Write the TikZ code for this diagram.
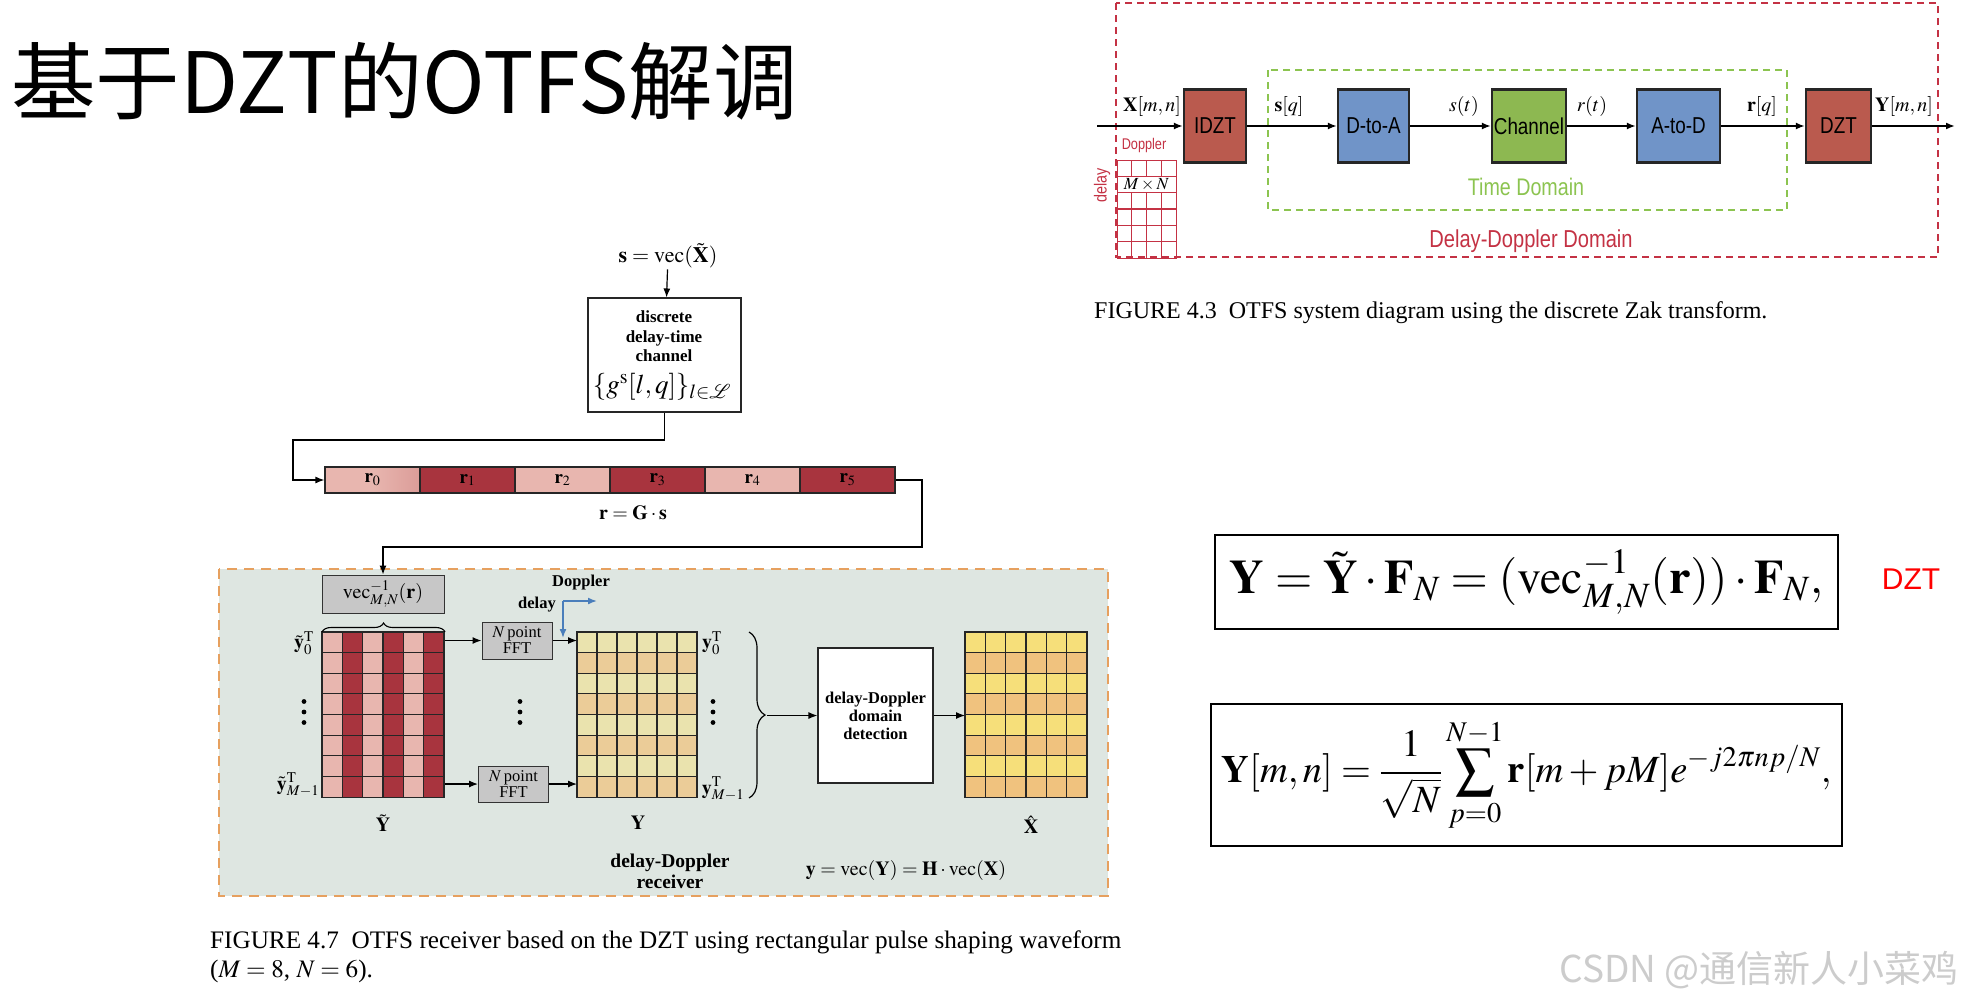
\documentclass[tikz,border=0pt]{standalone}
\usepackage{amsmath}
\usepackage{mathptmx}
\usepackage{fontspec}
\setmainfont{Liberation Serif}
\newfontfamily\cjkfont{Noto Sans CJK SC}
\newfontfamily\narrowsf[FakeStretch=0.82]{Liberation Sans}
\newfontfamily\plainsf{Liberation Sans}
\usetikzlibrary{arrows.meta,calc,decorations.pathreplacing}
\newcommand{\setfs}[2]{\fontsize{#1}{#2}\selectfont}
\definecolor{zakred}{RGB}{186,90,78}
\definecolor{zakblue}{RGB}{112,148,200}
\definecolor{zakgreen}{RGB}{141,184,81}
\definecolor{ddred}{RGB}{196,50,68}
\definecolor{tdgreen}{RGB}{140,196,80}
\definecolor{pinkc}{RGB}{232,182,175}
\definecolor{darkc}{RGB}{168,52,62}
\definecolor{ylw}{RGB}{234,227,174}
\definecolor{ytan}{RGB}{235,204,152}
\definecolor{xylw}{RGB}{246,223,122}
\definecolor{xorg}{RGB}{240,194,126}
\definecolor{rxbg}{RGB}{222,230,225}
\definecolor{rxdash}{RGB}{230,160,95}
\definecolor{axblue}{RGB}{74,126,187}

\begin{document}
\begin{tikzpicture}[x=1pt,y=-1pt,>={Latex[length=9pt,width=7pt]},
  blk/.style={draw=black!85, line width=2.2, minimum height=73, inner sep=0pt, font=\narrowsf\setfs{23}{26}},
  sig/.style={font=\setfs{20}{24}, inner sep=1pt},
  lbl/.style={font=\setfs{20}{24}, inner sep=1pt},
  bf/.style={font=\bfseries\setfs{17}{19.5}, align=center, inner sep=0pt},
  flow/.style={->, line width=1.8},
  thin/.style={->, line width=1.2},
  gbox/.style={draw=black!80, fill=black!22, line width=1, inner sep=0pt},
  rc/.style={draw=black!85, line width=1.2, minimum width=95, minimum height=26, inner sep=0pt, font=\setfs{19}{22}},
  cell/.style={draw=black!85, line width=1.1}]
  \path[use as bounding box, fill=white] (0,0) rectangle (1971,999);
  \node[anchor=base west, inner sep=0pt, font=\cjkfont\setfs{84.5}{96}] (title) at (11,113) {基于DZT的OTFS解调};

  % Zak transform system.
  \draw[ddred, line width=1.4, dash pattern=on 7pt off 5pt] (1116,3) rectangle (1938,257);
  \draw[tdgreen, line width=1.4, dash pattern=on 7pt off 5pt] (1268,70) rectangle (1787,210);
  \node[draw=ddred, line width=1.4, minimum width=59, minimum height=98, anchor=north west, inner sep=0pt] (dd) at (1117,160) {};
  \foreach \i in {1,2,3}
    \draw[ddred, line width=1.4] ($(dd.north west)+(\i*14.75,0)$) -- ++(0,98);
  \foreach \j in {1,...,5}
    \draw[ddred, line width=1.4] ($(dd.north west)+(0,\j*16.33)$) -- ++(59,0);
  \node[fill=white, inner sep=0pt, minimum width=55, minimum height=15, font=\setfs{17}{20}] (mn) at (1146.5,184.5) {$M\times N$};
  \node[text=ddred, font=\narrowsf\setfs{15.5}{17}, inner sep=0pt] (dop1) at (1144,145) {Doppler};
  \node[text=ddred, font=\narrowsf\setfs{17.5}{19}, inner sep=0pt, rotate=90] (dly1) at (1102,185) {delay};
  \node[blk, fill=zakred, minimum width=62] (idzt) at (1215,126) {IDZT};
  \node[blk, fill=zakblue, minimum width=71] (dta) at (1373.5,126) {D-to-A};
  \node[blk, fill=zakgreen, minimum width=74] (chan) at (1529,126) {Channel};
  \node[blk, fill=zakblue, minimum width=83] (atd) at (1678.5,126) {A-to-D};
  \node[blk, fill=zakred, minimum width=65] (dzt) at (1838.5,126) {DZT};
  \coordinate (xin) at (1097,126);
  \coordinate (yout) at (1955,126);
  \draw[flow] (xin) -- (idzt);
  \draw[flow] (idzt) -- (dta);
  \draw[flow] (dta) -- (chan);
  \draw[flow] (chan) -- (atd);
  \draw[flow] (atd) -- (dzt);
  \draw[flow] (dzt) -- (yout);
  \node[sig] (xmn) at (1152,106) {$\mathbf{X}[m,n]$};
  \node[sig] (sq) at (1289,106) {$\mathbf{s}[q]$};
  \node[sig] (st) at (1464,106) {$s(t)$};
  \node[sig] (rt) at (1592,106) {$r(t)$};
  \node[sig] (rq) at (1762,106) {$\mathbf{r}[q]$};
  \node[sig] (ymn) at (1904,106) {$\mathbf{Y}[m,n]$};
  \node[text=tdgreen, font=\narrowsf\setfs{24}{28}] (tdl) at (1526,187) {Time Domain};
  \node[text=ddred, font=\narrowsf\setfs{24.5}{28}] (ddl) at (1531,241) {Delay-Doppler Domain};
  \node[anchor=base west, inner sep=0pt, font=\setfs{24}{28}] (cap43) at (1094,318) {FIGURE 4.3\enspace OTFS system diagram using the discrete Zak transform.};

  % Channel and received vector.
  \node[lbl, font=\setfs{22}{26}] (S) at (668,256) {$\mathbf{s}=\operatorname{vec}(\tilde{\mathbf{X}})$};
  \node[draw=black!85, line width=1.1, minimum width=153, minimum height=114, inner sep=0pt] (C) at (664.5,355) {};
  \node[bf] (Ct) at (664,336.5) {discrete\\delay-time\\channel};
  \node[lbl, font=\setfs{27}{30}] (Cf) at (662,387) {$\{g^{\mathrm{s}}[l,q]\}_{l\in\mathcal{L}}$};
  \draw[thin] (S) -- (C);
  \node[rc, left color=pinkc, right color=pinkc!80!darkc, middle color=pinkc] (R0) at (372.5,480) {$\mathbf{r}_0$};
  \node[rc, fill=darkc] (R1) at (467.5,480) {$\mathbf{r}_1$};
  \node[rc, fill=pinkc] (R2) at (562.5,480) {$\mathbf{r}_2$};
  \node[rc, fill=darkc] (R3) at (657.5,480) {$\mathbf{r}_3$};
  \node[rc, fill=pinkc] (R4) at (752.5,480) {$\mathbf{r}_4$};
  \node[rc, fill=darkc] (R5) at (847.5,480) {$\mathbf{r}_5$};
  \node[lbl] (rgs) at (633,513) {$\mathbf{r}=\mathbf{G}\cdot\mathbf{s}$};
  \coordinate (c1) at (293,440);
  \draw[thin] (C.south) |- (c1) |- (R0.west);

  % Receiver.
  \draw[rxdash, fill=rxbg, line width=1.5, dash pattern=on 10pt off 7pt] (219,569) rectangle (1108,896);
  \node[gbox, minimum width=122, minimum height=38, font=\setfs{20}{24}] (V) at (383,594) {$\operatorname{vec}^{-1}_{M,N}(\mathbf{r})$};
  \coordinate (c2) at (922,547);
  \draw[thin] (R5.east) -| (c2) -| (V.north);
  \node[cell, minimum width=122, minimum height=165, anchor=north west, inner sep=0pt] (Mt) at (322,632) {};
  \foreach \i in {0,...,5}
    \foreach \j in {0,...,7} {
      \ifodd\i \def\cc{darkc}\else\def\cc{pinkc}\fi
      \draw[cell, fill=\cc] ($(Mt.north west)+(\i*20.33,\j*20.63)$) rectangle +(20.33,20.63);
    }
  \draw[decorate, decoration={brace, amplitude=9pt}, line width=1.1] (Mt.north west) -- (Mt.north east);
  \node[lbl] (yt0) at (304,643) {$\tilde{\mathbf{y}}_0^{\mathrm{T}}$};
  \node[lbl] (ytm) at (298,785) {$\tilde{\mathbf{y}}_{M-1}^{\mathrm{T}}$};
  \node[lbl] (Ytl) at (383,823) {$\tilde{\mathbf{Y}}$};
  \node[gbox, minimum width=70, minimum height=37, align=center, font=\setfs{16.5}{16}] (F1) at (517,640.5) {$N$\,point\\FFT};
  \node[gbox, minimum width=70, minimum height=36, align=center, font=\setfs{16.5}{16}] (F2) at (513.5,784) {$N$\,point\\FFT};
  \node[cell, minimum width=120, minimum height=165, anchor=north west, inner sep=0pt] (My) at (577,632) {};
  \foreach \i in {0,...,5}
    \foreach \j in {0,...,7} {
      \ifodd\j \def\cc{ytan}\else\def\cc{ylw}\fi
      \draw[cell, fill=\cc] ($(My.north west)+(\i*20,\j*20.63)$) rectangle +(20,20.63);
    }
  % vertical dots.
  \coordinate (ytd) at (304,712);
  \coordinate (fd) at (520,712);
  \coordinate (yd) at (713,712);
  \foreach \p in {ytd,fd,yd} {
    \fill (\p) ++(0,-10.5) circle (2.4);
    \fill (\p) circle (2.4);
    \fill (\p) ++(0,10.5) circle (2.4);
  }
  \draw[thin] (Mt.east |- F1.west) -- (F1.west);
  \draw[thin] (F1.east) -- (F1.east -| My.west);
  \draw[thin] (Mt.east |- F2.west) -- (F2.west);
  \draw[thin] (F2.east) -- (F2.east -| My.west);
  \coordinate (ax) at (563,601);
  \coordinate (axr) at (597,601);
  \coordinate (axd) at (563,638);
  \draw[->, axblue, line width=1.6] (ax) -- (axr);
  \draw[->, axblue, line width=1.6] (ax) -- (axd);
  \node[bf, font=\bfseries\setfs{16.5}{18}] (dop2) at (581,583) {Doppler};
  \node[bf, font=\bfseries\setfs{16.5}{18}] (dly2) at (537,605) {delay};
  \node[lbl] (y0) at (712,643) {$\mathbf{y}_0^{\mathrm{T}}$};
  \node[lbl] (ym) at (723,789) {$\mathbf{y}_{M-1}^{\mathrm{T}}$};
  \node[lbl] (Yl) at (638,823) {$\mathbf{Y}$};
  \draw[decorate, decoration={brace, amplitude=16pt}, line width=1.2] (749,632) -- (749,798);
  \coordinate (bt) at (767,715.5);
  \node[draw=black!85, fill=white, line width=1.1, minimum width=115, minimum height=135, bf, font=\bfseries\setfs{16.5}{18}] (D) at (875.5,715.5) {delay-Doppler\\domain\\detection};
  \draw[thin] (bt) -- (D.west);
  \node[cell, minimum width=122, minimum height=165, anchor=north west, inner sep=0pt] (Xh) at (965,632) {};
  \foreach \i in {0,...,5}
    \foreach \j in {0,...,7} {
      \ifodd\j \def\cc{xorg}\else\def\cc{xylw}\fi
      \draw[cell, fill=\cc] ($(Xh.north west)+(\i*20.33,\j*20.63)$) rectangle +(20.33,20.63);
    }
  \draw[thin] (D.east) -- (D.east -| Xh.west);
  \node[lbl] (Xl) at (1031,825) {$\hat{\mathbf{X}}$};
  \node[lbl] (yeq) at (906,870) {$\mathbf{y}=\operatorname{vec}(\mathbf{Y})=\mathbf{H}\cdot\operatorname{vec}(\mathbf{X})$};
  \node[bf, font=\bfseries\setfs{19.5}{21}] (rxl) at (670,871.5) {delay-Doppler\\receiver};
  \node[anchor=base west, inner sep=0pt, font=\setfs{25.2}{29}] (cap47) at (210,948) {FIGURE 4.7\enspace OTFS receiver based on the DZT using rectangular pulse shaping waveform};
  \node[anchor=base west, inner sep=0pt, font=\setfs{25.2}{29}] (cap47b) at (210,977) {($M=8$, $N=6$).};

  % Equations.
  \node[draw, line width=2.5, minimum width=623, minimum height=94, inner sep=0pt, font=\setfs{48}{56}] (eq1) at (1526.5,582) {$\mathbf{Y}=\tilde{\mathbf{Y}}\cdot\mathbf{F}_N=(\operatorname{vec}^{-1}_{M,N}(\mathbf{r}))\cdot\mathbf{F}_N,$};
  \node[text=red, font=\plainsf\setfs{30}{34}] (dztl) at (1911,579) {DZT};
  \node[draw, line width=2.5, minimum width=631, minimum height=142, inner sep=0pt, font=\setfs{38.5}{45}] (eq2) at (1526.5,775) {$\displaystyle\mathbf{Y}[m,n]=\frac{1}{\sqrt{N}}\sum_{p=0}^{N-1}\mathbf{r}[m+pM]e^{-j2\pi np/N},$};
  \node[text=black!20, font=\cjkfont\setfs{37}{40}] (wm) at (1759,970) {CSDN @通信新人小菜鸡};
\end{tikzpicture}
\end{document}
